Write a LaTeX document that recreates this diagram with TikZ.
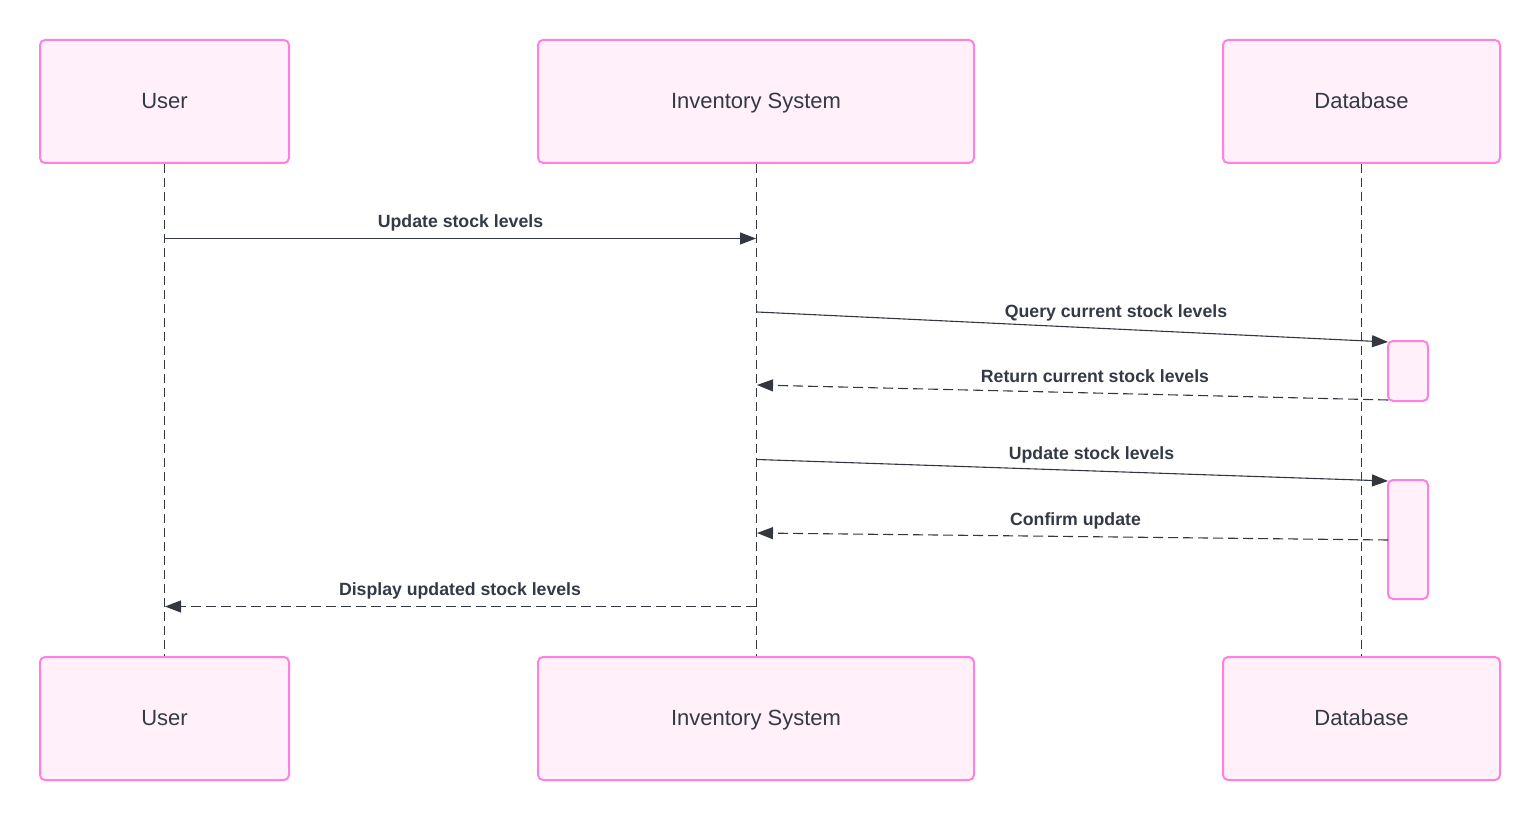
\documentclass[tikz,border=0pt]{standalone}
\usepackage{fontspec}
\setmainfont{Liberation Sans}
\usetikzlibrary{arrows.meta}
\definecolor{actborder}{HTML}{FF80E0}
\definecolor{actfill}{HTML}{FFF0FA}
\definecolor{txt}{HTML}{333A45}
\definecolor{ln}{HTML}{333840}
\tikzset{
  actor/.style={draw=actborder, fill=actfill, line width=2pt, rounded corners=5pt, minimum height=123pt, text=txt, font=\fontsize{22}{26}\selectfont, inner sep=0pt, text height=16pt, text depth=2pt},
  actbox/.style={draw=actborder, fill=actfill, line width=2pt, rounded corners=5pt, minimum width=40pt, inner sep=0pt},
  lifeline/.style={draw=ln, line width=1.1pt, dash pattern=on 9pt off 5pt},
  msg/.style={draw=ln, line width=1.1pt, -{Triangle[length=16pt,width=12pt]}},
  reply/.style={msg, dash pattern=on 10pt off 5pt},
  lbl/.style={text=txt, font=\bfseries\fontsize{17.7}{20}\selectfont, inner sep=0pt, anchor=base}
}
\begin{document}
\begin{tikzpicture}[x=1pt, y=-1pt]
\useasboundingbox (0,0) rectangle (1540,821);
% actors top
\node[actor, minimum width=249pt] (userT) at (164.5,101.5) {User};
\node[actor, minimum width=436pt] (invT) at (756,101.5) {Inventory System};
\node[actor, minimum width=277pt] (dbT) at (1361.5,101.5) {Database};
% actors bottom
\node[actor, minimum width=249pt] (userB) at (164.5,718.5) {User};
\node[actor, minimum width=436pt] (invB) at (756,718.5) {Inventory System};
\node[actor, minimum width=277pt] (dbB) at (1361.5,718.5) {Database};
% lifelines
\draw[lifeline] (userT.south) -- (userB.north);
\draw[lifeline] ([xshift=0.5pt]invT.south) -- ([xshift=0.5pt]invB.north);
\draw[lifeline] (dbT.south) -- (dbB.north);
% activations
\node[actbox, minimum height=60pt] (act1) at (1408,371) {};
\node[actbox, minimum height=119pt] (act2) at (1408,539.5) {};
% message endpoints
\coordinate (m1s) at (165,238.5);
\coordinate (m1e) at (756,238.5);
\coordinate (m2s) at (757,312);
\coordinate (m2e) at (1388,342);
\coordinate (m3s) at (1388,400);
\coordinate (m3e) at (757,385);
\coordinate (m4s) at (757,459.5);
\coordinate (m4e) at (1388,481);
\coordinate (m5s) at (1388,540);
\coordinate (m5e) at (757,533);
\coordinate (m6s) at (756,606.5);
\coordinate (m6e) at (165,606.5);
% messages
\draw[msg] (m1s) -- (m1e);
\draw[msg] (m2s) -- (m2e);
\draw[reply] (m3s) -- (m3e);
\draw[msg] (m4s) -- (m4e);
\draw[reply] (m5s) -- (m5e);
\draw[reply] (m6s) -- (m6e);
% labels
\node[lbl] (l1) at (460.5,227.7) {Update stock levels};
\node[lbl] (l2) at (1116,317.5) {Query current stock levels};
\node[lbl] (l3) at (1095,382.5) {Return current stock levels};
\node[lbl] (l4) at (1091.5,459.5) {Update stock levels};
\node[lbl] (l5) at (1075.5,525.5) {Confirm update};
\node[lbl] (l6) at (460,595.5) {Display updated stock levels};
\end{tikzpicture}
\end{document}
